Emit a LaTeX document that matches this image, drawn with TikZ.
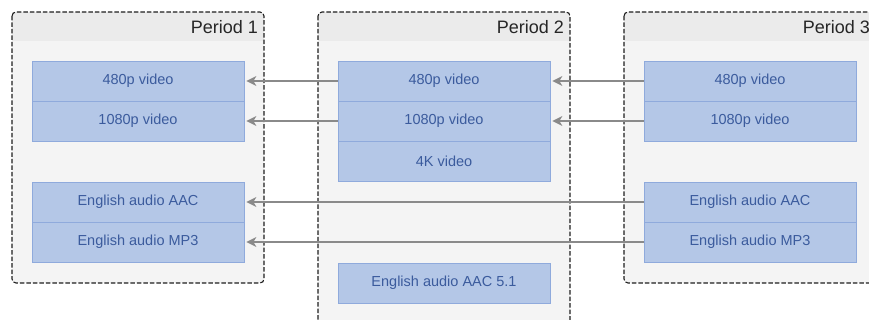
\documentclass[tikz,border=0pt]{standalone}
\usepackage{fontspec}
\setmainfont{Liberation Sans}
\usetikzlibrary{arrows.meta}
\definecolor{frameline}{HTML}{1E1E1E}
\definecolor{headfill}{HTML}{EBEBEB}
\definecolor{bodyfill}{HTML}{F4F4F4}
\definecolor{repfill}{HTML}{B4C7E7}
\definecolor{repline}{HTML}{8FAADC}
\definecolor{reptext}{HTML}{3B5B9D}
\definecolor{linkgray}{HTML}{8A8A8A}
\tikzset{
  periodframe/.style={draw=frameline, line width=1.1pt, dash pattern=on 4.5pt off 2pt, rounded corners=4pt},
  periodtitle/.style={anchor=east, font=\fontsize{18}{20}\selectfont, text=black!85, inner sep=0pt},
  rep/.style={draw=repline, fill=repfill, line width=0.8pt, minimum width=212pt, minimum height=40pt,
    inner sep=0pt, font=\fontsize{14.5}{17}\selectfont, text=reptext},
  link/.style={draw=linkgray, line width=1.2pt, -{Stealth[length=10pt, width=10pt, inset=3pt]}, shorten >=2pt}
}
\begin{document}
\begin{tikzpicture}[x=1pt, y=-1pt]
  \useasboundingbox (0,0) rectangle (869,320);
  \clip (0,0) rectangle (869,320);

  % period containers: header band over a lighter body
  \foreach \px/\pb/\lab in {12/283/1, 318/340/2, 624/283/3} {
    \begin{scope}
      \clip[rounded corners=4pt] (\px,12) rectangle (\px+252,\pb);
      \fill[bodyfill] (\px,12) rectangle (\px+252,\pb);
      \fill[headfill] (\px,12) rectangle (\px+252,41);
    \end{scope}
    \draw[periodframe] (\px,12) rectangle (\px+252,\pb);
    \node[periodtitle] (title\lab) at (\px+246,27) {Period \lab};
  }

  % Period 1 representations
  \node[rep] (a480)  at (138,81)  {480p video};
  \node[rep] (a1080) at (138,121) {1080p video};
  \node[rep] (aaac)  at (138,202) {English audio AAC};
  \node[rep] (amp3)  at (138,242) {English audio MP3};

  % Period 2 representations
  \node[rep] (b480)  at (444,81)  {480p video};
  \node[rep] (b1080) at (444,121) {1080p video};
  \node[rep] (b4k)   at (444,161) {4K video};
  \node[rep] (b51)   at (444,283) {English audio AAC 5.1};

  % Period 3 representations
  \node[rep] (c480)  at (750,81)  {480p video};
  \node[rep] (c1080) at (750,121) {1080p video};
  \node[rep] (caac)  at (750,202) {English audio AAC};
  \node[rep] (cmp3)  at (750,242) {English audio MP3};

  % continuity links between periods
  \draw[link] (b480.west)  -- (a480.east);
  \draw[link] (b1080.west) -- (a1080.east);
  \draw[link] (c480.west)  -- (b480.east);
  \draw[link] (c1080.west) -- (b1080.east);
  \draw[link] (caac.west)  -- (aaac.east);
  \draw[link] (cmp3.west)  -- (amp3.east);
\end{tikzpicture}
\end{document}
